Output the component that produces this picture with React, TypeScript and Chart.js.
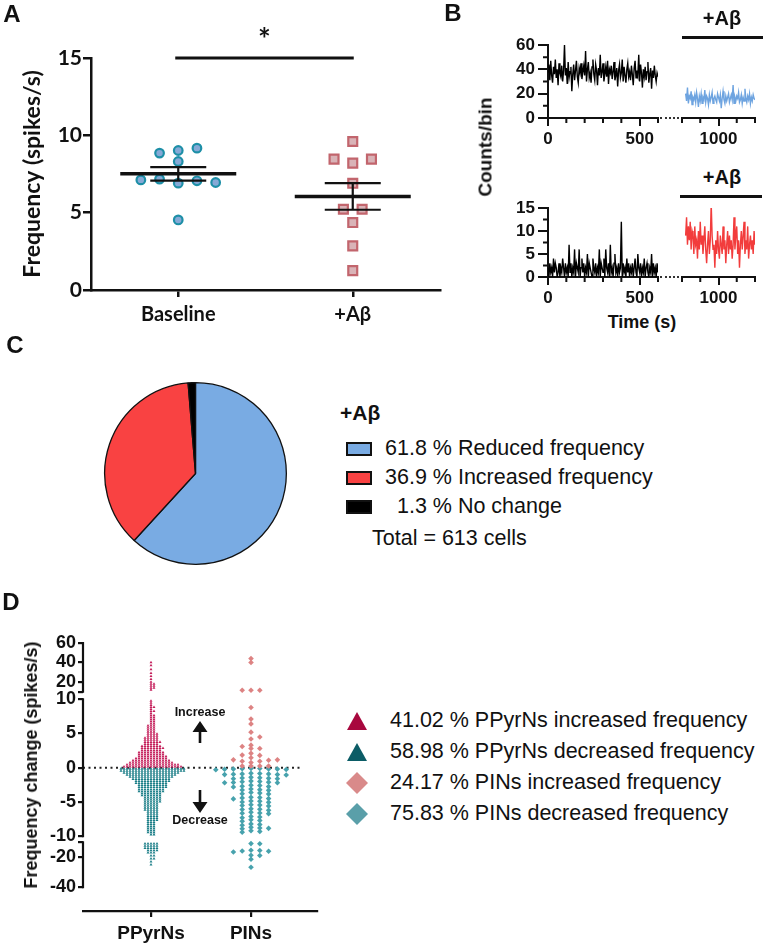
import React, { useEffect, useRef } from 'react';
import { Chart, registerables } from 'chart.js';

Chart.register(...registerables);

const SANS = "'Liberation Sans', Arial, Helvetica, sans-serif";
const LATO = "Lato, 'Open Sans', sans-serif";
const INK = '#111111';

/* ---------- A: mean firing rate, baseline vs +Aβ ---------- */
const groupLabels = ['Baseline', '+Aβ'];
const baselineRates = [8.85, 9.02, 9.17, 8.31, 7.12, 7.17, 6.91, 7.06, 6.95, 4.53];
const abetaRates = [9.6, 8.46, 8.2, 8.46, 6.9, 5.22, 5.22, 4.36, 2.85, 1.25];
const rateTicks = [0, 5, 10, 15];
const rateMax = 15;
const sigMark = '*';

/* ---------- B: spike counts of two example units ---------- */
const binSeconds = 5;
const preStart = 0;
const postStart = 820;
const preTimeTicks = [0, 500];
const preTimeMinor = [100, 200, 300, 400, 600];
const postTimeTicks = [1000];
const postTimeMinor = [800, 900, 1100, 1200];
const unit1Ticks = [0, 20, 40, 60];
const unit1Minor = [10, 30, 50];
const unit2Ticks = [0, 5, 10, 15];
const unit2Minor = [2.5, 7.5, 12.5];
const treatmentLabel = '+Aβ';

const unit1Pre = [
  38, 44, 31, 47, 35, 29, 42, 36, 48, 33,
  40, 27, 45, 37, 34, 43, 30, 39, 60, 35,
  41, 28, 46, 33, 38, 42, 22, 36, 44, 31,
  39, 47, 34, 29, 41, 37, 45, 32, 38, 43,
  35, 55, 30, 40, 46, 33, 37, 29, 42, 48,
  36, 31, 44, 39, 27, 41, 35, 52, 33, 38,
  45, 30, 36, 42, 34, 47, 28, 40, 37, 43,
  32, 38, 46, 31, 35, 41, 26, 39, 44, 33,
  37, 48, 30, 42, 35, 29, 40, 45, 34, 38,
  31, 43, 36, 27, 41, 47, 33, 39, 35, 52,
  30, 44, 37, 25, 40, 34, 42, 31, 38, 46,
  29, 36, 41, 24, 39, 33, 43, 35, 30, 37,
  34,
];
const unit1Post = [
  20, 14, 25, 12, 18, 16, 22, 11, 17, 15,
  19, 13, 21, 16, 9, 18, 14, 20, 12, 17,
  15, 23, 13, 18, 16, 11, 19, 14, 17, 21,
  12, 16, 18, 15, 13, 20, 17, 14, 19, 8,
  16, 22, 15, 12, 18, 14, 17, 20, 13, 16,
  19, 15, 27, 12, 17, 14, 18, 16, 21, 13,
  15, 19, 12, 17, 14, 24, 16, 13, 18, 15,
  20, 12, 17, 14, 19, 16, 15,
];
const unit2Pre = [
  2, 0, 3, 1, 2, 0, 4, 1, 3, 2,
  0, 1, 3, 0, 2, 1, 4, 2, 0, 3,
  1, 2, 0, 7, 1, 3, 0, 2, 1, 6,
  0, 3, 2, 1, 6, 0, 2, 4, 1, 3,
  0, 2, 1, 5, 0, 3, 2, 1, 0, 4,
  2, 1, 3, 0, 2, 1, 6, 0, 3, 2,
  1, 4, 0, 6, 2, 1, 3, 0, 7, 1,
  2, 0, 3, 5, 1, 2, 0, 3, 1, 2,
  12, 0, 3, 1, 2, 0, 4, 1, 3, 0,
  2, 1, 3, 0, 2, 4, 1, 0, 5, 2,
  1, 3, 0, 2, 1, 4, 0, 2, 3, 1,
  0, 2, 1, 5, 0, 3, 1, 2, 0, 3,
  1,
];
const unit2Post = [
  9, 13, 7, 11, 8, 12, 6, 10, 9, 5,
  11, 7, 8, 4, 10, 6, 12, 7, 9, 5,
  8, 11, 6, 3, 7, 10, 5, 8, 16, 9,
  6, 7, 2, 8, 5, 10, 6, 4, 9, 7,
  5, 11, 6, 8, 3, 7, 10, 5, 9, 6,
  8, 4, 7, 13, 6, 9, 11, 5, 8, 2,
  7, 10, 6, 9, 12, 5, 8, 6, 11, 4,
  7, 9, 6, 8, 5, 10, 7,
];

/* ---------- C: proportion of responding cells ---------- */
const responseLabels = ['Reduced frequency', 'Increased frequency', 'No change'];
const responseShares = [61.8, 36.9, 1.3];
const responseColors = ['#79abe3', '#f94242', '#000000'];
const totalCells = 613;

/* ---------- D: change in firing per cell type ---------- */
const cellTypes = ['PPyrNs', 'PINs'];
const changeTicks = [60, 40, 20, 10, 5, 0, -5, -10, -20, -40];
// PPyrNs rows: [value, number of cells]
const ppyrIncRows: [number, number][] = [
  [40, 1], [37, 1], [33, 1], [29, 1], [26, 1], [23, 1], [20, 1], [18, 2], [16, 2], [14, 2], [12, 1],
  [9.75, 1], [9.45, 1], [9.15, 1], [8.85, 2], [8.55, 1], [8.25, 2], [7.95, 1], [7.65, 2], [7.35, 2],
  [7.05, 2], [6.75, 2], [6.45, 2], [6.15, 3], [5.85, 3], [5.55, 3], [5.25, 3], [4.95, 4], [4.65, 4],
  [4.35, 5], [4.05, 5], [3.75, 6], [3.45, 5], [3.15, 7], [2.85, 8], [2.55, 7], [2.25, 9], [1.95, 9],
  [1.65, 10], [1.35, 11], [1.05, 13], [0.75, 15], [0.45, 18], [0.15, 20],
];
const ppyrDecRows: [number, number][] = [
  [-0.15, 22], [-0.45, 22], [-0.75, 19], [-1.05, 17], [-1.35, 15], [-1.65, 13], [-1.95, 12],
  [-2.25, 11], [-2.55, 10], [-2.85, 10], [-3.15, 9], [-3.45, 9], [-3.75, 7], [-4.05, 7], [-4.35, 6],
  [-4.65, 6], [-4.95, 6], [-5.25, 5], [-5.55, 5], [-5.85, 5], [-6.15, 5], [-6.45, 4], [-6.75, 4],
  [-7.05, 4], [-7.35, 4], [-7.65, 4], [-7.95, 3], [-8.25, 3], [-8.55, 3], [-8.85, 3], [-9.15, 3],
  [-9.45, 3], [-9.75, 2],
  [-11, 5], [-12.5, 5], [-14, 5], [-15.5, 4], [-17, 3], [-19, 2], [-21, 2], [-23, 1], [-25, 1],
];
const pinsInc = [
  44, 40, 11.5, 11.5, 11.5, 8.8, 7.1, 6.4, 5.2, 4.5, 4.2, 3.3, 3.1, 2.8, 2.8,
  2.1, 1.85, 1.8, 1.45, 1.15, 1.15, 1.1, 0.95, 0.95, 0.75, 0.25, 0.25, 0.25, 0.25,
];
const pinsDec = [
  -0.1, -0.12, -0.15, -0.18, -0.2, -0.2, -0.22, -0.25, -0.3,
  -0.8, -0.85, -0.9, -0.9, -0.95, -1.0, -1.0, -1.05,
  -1.4, -1.45, -1.5, -1.55, -1.6, -1.6,
  -1.95, -2.0, -2.05, -2.1, -2.15, -2.2, -2.2,
  -2.55, -2.6, -2.7, -2.75, -2.8,
  -3.1, -3.2, -3.25, -3.3,
  -3.6, -3.7, -3.8, -3.85,
  -4.3, -4.35, -4.4, -4.5, -4.55,
  -4.85, -4.9, -5.0, -5.05,
  -5.4, -5.45, -5.5, -5.6,
  -6.0, -6.05, -6.1, -6.2,
  -6.5, -6.6, -6.65, -6.7,
  -7.1, -7.2, -7.3,
  -7.6, -7.7, -7.8,
  -8.2, -8.3, -8.4,
  -8.7, -8.8, -8.85, -8.9,
  -9.2, -9.3, -9.4,
  -10.9, -11.0, -15.3, -15.5, -15.8, -16.0, -16.5, -18.7, -18.8, -21.3, -26.7,
];
const seriesNames = [
  'PPyrNs increased frequency',
  'PPyrNs decreased frequency',
  'PINs increased frequency',
  'PINs decreased frequency',
];

/* ---------- layout helpers ---------- */
type Rect = { l: number; t: number; r: number; b: number };

function frame(canvas: Rect, area: Rect, yShown = true) {
  const zero = (s: any) => {
    s.paddingLeft = 0; s.paddingRight = 0; s.paddingTop = 0; s.paddingBottom = 0;
  };
  return {
    padding: { top: area.t - canvas.t, right: canvas.r - area.r, bottom: 0, left: yShown ? 0 : area.l - canvas.l },
    fitY: (s: any) => { s.width = area.l - canvas.l; zero(s); },
    fitX: (s: any) => { s.height = canvas.b - area.b; zero(s); },
  };
}

const tickGrid = (len: number, width: number) => ({
  drawOnChartArea: false, drawTicks: true, tickLength: len, lineWidth: width,
  color: INK, tickColor: INK, tickWidth: width,
});
const setTicks = (vals: number[]) => (s: any) => { s.ticks = vals.map((value) => ({ value })); };

// rows of near-equal values spread evenly around the group centre
function rowOffsets(values: number[], tol: number): number[] {
  const order = values.map((_, i) => i).sort((a, b) => values[b] - values[a]);
  const offs = new Array(values.length).fill(0);
  let k = 0;
  while (k < order.length) {
    const first = values[order[k]];
    let j = k;
    while (j < order.length && first - values[order[j]] < tol) j++;
    const row = order.slice(k, j).sort((a, b) => a - b);
    row.forEach((idx, n) => { offs[idx] = n - (row.length - 1) / 2; });
    k = j;
  }
  return offs;
}

// column swarm: each point takes the nearest free column (right first, then left)
function columnOffsets(pos: number[], minGap: number): number[] {
  const order = pos.map((_, i) => i).sort((a, b) => Math.abs(pos[a]) - Math.abs(pos[b]));
  const taken: { c: number; p: number }[] = [];
  const cols = new Array(pos.length).fill(0);
  for (const i of order) {
    for (let n = 0; n < 400; n++) {
      const c = n === 0 ? 0 : n % 2 ? (n + 1) / 2 : -n / 2;
      if (!taken.some((t) => t.c === c && Math.abs(t.p - pos[i]) < minGap)) {
        cols[i] = c;
        taken.push({ c, p: pos[i] });
        break;
      }
    }
  }
  return cols;
}

const expandRows = (rows: [number, number][]) => rows.flatMap(([v, n]) => new Array(n).fill(v));

/* ---------- minor tick marks ---------- */
const minorTickPlugin = {
  id: 'minorTicks',
  afterDraw(chart: any, _args: any, opts: any) {
    const { ctx, chartArea } = chart;
    const len = opts.length ?? 5;
    ctx.save();
    ctx.strokeStyle = INK;
    ctx.lineWidth = opts.width ?? 2;
    ctx.beginPath();
    (opts.x || []).forEach((v: number) => {
      const px = chart.scales.x.getPixelForValue(v);
      ctx.moveTo(px, chartArea.bottom);
      ctx.lineTo(px, chartArea.bottom + len);
    });
    (opts.y || []).forEach((v: number) => {
      const py = chart.scales.y.getPixelForValue(v);
      ctx.moveTo(chartArea.left, py);
      ctx.lineTo(chartArea.left - len, py);
    });
    ctx.stroke();
    ctx.restore();
  },
};

/* ---------- A ---------- */
const A_CANVAS: Rect = { l: 0, t: 0, r: 445, b: 335 };
const A_AREA: Rect = { l: 91, t: 58, r: 440, b: 290 };

function stats(vals: number[]) {
  const n = vals.length;
  const mean = vals.reduce((a, b) => a + b, 0) / n;
  const sd = Math.sqrt(vals.reduce((a, b) => a + (b - mean) ** 2, 0) / (n - 1));
  return { mean, sem: sd / Math.sqrt(n) };
}

const meanSemPlugin = {
  id: 'meanSem',
  afterDatasetsDraw(chart: any) {
    const { ctx } = chart;
    const { x, y } = chart.scales;
    [baselineRates, abetaRates].forEach((vals, i) => {
      const { mean, sem } = stats(vals);
      const cx = x.getPixelForValue(i);
      const ym = y.getPixelForValue(mean);
      const yh = y.getPixelForValue(mean + sem);
      const yl = y.getPixelForValue(mean - sem);
      ctx.save();
      ctx.strokeStyle = INK;
      ctx.lineWidth = 3.5;
      ctx.beginPath(); ctx.moveTo(cx - 58, ym); ctx.lineTo(cx + 58, ym); ctx.stroke();
      ctx.lineWidth = 2.2;
      ctx.beginPath();
      ctx.moveTo(cx - 28, yh); ctx.lineTo(cx + 28, yh);
      ctx.moveTo(cx - 28, yl); ctx.lineTo(cx + 28, yl);
      ctx.moveTo(cx, yh); ctx.lineTo(cx, yl);
      ctx.stroke();
      ctx.restore();
    });
  },
};

const significancePlugin = {
  id: 'significance',
  afterDraw(chart: any) {
    const { ctx } = chart;
    const { x, y } = chart.scales;
    const x0 = x.getPixelForValue(0) - 3;
    const x1 = x.getPixelForValue(1) + 1;
    const yb = y.getPixelForValue(rateMax);
    ctx.save();
    ctx.strokeStyle = INK;
    ctx.lineWidth = 3;
    ctx.beginPath(); ctx.moveTo(x0, yb); ctx.lineTo(x1, yb); ctx.stroke();
    ctx.fillStyle = INK;
    ctx.font = `bold 30px ${LATO}`;
    ctx.textAlign = 'center';
    ctx.textBaseline = 'alphabetic';
    ctx.fillText(sigMark, (x0 + x1) / 2, yb - 8);
    ctx.restore();
  },
};

function buildPanelA() {
  const f = frame(A_CANVAS, A_AREA);
  const step = 18.7 / ((A_AREA.r - A_AREA.l) / 2);
  const mk = (vals: number[], cat: number) => {
    const o = rowOffsets(vals, 0.5);
    return vals.map((v, i) => ({ x: cat + o[i] * step, y: v }));
  };
  return {
    type: 'scatter',
    data: {
      datasets: [
        {
          label: groupLabels[0], data: mk(baselineRates, 0), pointStyle: 'circle', pointRadius: 4.3,
          pointBackgroundColor: '#86a9d6', pointBorderColor: '#1d8fa7', pointBorderWidth: 2.2,
        },
        {
          label: groupLabels[1], data: mk(abetaRates, 1), pointStyle: 'rect', pointRadius: 6.3,
          pointBackgroundColor: '#d9b3b7', pointBorderColor: '#c2656d', pointBorderWidth: 2.2,
        },
      ],
    },
    options: {
      responsive: false, animation: false, events: [],
      layout: { autoPadding: false, padding: f.padding },
      plugins: { legend: { display: false }, tooltip: { enabled: false } },
      scales: {
        x: {
          type: 'linear', min: -0.5, max: 1.5, afterBuildTicks: setTicks([0, 1]), afterFit: f.fitX,
          grid: tickGrid(7, 2.5), border: { display: true, width: 2.5, color: INK },
          ticks: {
            autoSkip: false, maxRotation: 0, padding: 6, color: INK,
            font: { family: LATO, size: 20, weight: 'bold' },
            callback: (_v: any, i: number) => groupLabels[i],
          },
        },
        y: {
          min: 0, max: rateMax, afterBuildTicks: setTicks(rateTicks), afterFit: f.fitY,
          grid: tickGrid(8, 2.5), border: { display: true, width: 2.5, color: INK },
          ticks: { autoSkip: false, padding: 1, color: INK, font: { family: LATO, size: 21, weight: 'bold' } },
          title: {
            display: true, text: 'Frequency (spikes/s)', color: INK,
            font: { family: LATO, size: 23, weight: 'bold' }, padding: { top: 19, bottom: 0 },
          },
        },
      },
    },
    plugins: [meanSemPlugin, significancePlugin],
  };
}

/* ---------- B ---------- */
const B_TOP_L = { canvas: { l: 490, t: 30, r: 662, b: 152 }, area: { l: 548, t: 45, r: 658, b: 118 } };
const B_TOP_R = { canvas: { l: 670, t: 30, r: 767, b: 152 }, area: { l: 682, t: 45, r: 755, b: 118 } };
const B_BOT_L = { canvas: { l: 490, t: 195, r: 662, b: 312 }, area: { l: 548, t: 208, r: 658, b: 277 } };
const B_BOT_R = { canvas: { l: 670, t: 195, r: 767, b: 312 }, area: { l: 682, t: 208, r: 755, b: 277 } };

type TraceSpec = {
  box: { canvas: Rect; area: Rect };
  values: number[]; start: number; color: string;
  yMax: number; yTicks: number[]; yMinor: number[];
  xMin: number; xMax: number; xTicks: number[]; xMinor: number[];
  showY: boolean;
};

function buildTrace(s: TraceSpec) {
  const f = frame(s.box.canvas, s.box.area, s.showY);
  const tickFont = { family: SANS, size: 17, weight: 'bold' };
  return {
    type: 'line',
    data: {
      datasets: [{
        data: s.values.map((v, i) => ({ x: s.start + i * binSeconds, y: v })),
        borderColor: s.color, borderWidth: 1.4, pointRadius: 0, tension: 0,
      }],
    },
    options: {
      responsive: false, animation: false, events: [],
      layout: { autoPadding: false, padding: f.padding },
      plugins: {
        legend: { display: false }, tooltip: { enabled: false },
        minorTicks: { x: s.xMinor, y: s.showY ? s.yMinor : [], length: 5, width: 2 },
      },
      scales: {
        x: {
          type: 'linear', min: s.xMin, max: s.xMax, afterBuildTicks: setTicks(s.xTicks), afterFit: f.fitX,
          grid: tickGrid(8, 2), border: { display: true, width: 2, color: INK },
          ticks: {
            autoSkip: false, maxRotation: 0, padding: 3, color: INK, font: tickFont,
            callback: (v: any) => String(v),
          },
        },
        y: s.showY
          ? {
            min: 0, max: s.yMax, afterBuildTicks: setTicks(s.yTicks), afterFit: f.fitY,
            grid: tickGrid(10, 2), border: { display: true, width: 2, color: INK },
            ticks: { autoSkip: false, padding: 3, color: INK, font: tickFont, callback: (v: any) => String(v) },
          }
          : { display: false, min: 0, max: s.yMax },
      },
    },
    plugins: [minorTickPlugin],
  };
}

const buildB1 = () => buildTrace({
  box: B_TOP_L, values: unit1Pre, start: preStart, color: '#000000', yMax: 60, yTicks: unit1Ticks,
  yMinor: unit1Minor, xMin: 0, xMax: 600, xTicks: preTimeTicks, xMinor: preTimeMinor, showY: true,
});
const buildB2 = () => buildTrace({
  box: B_TOP_R, values: unit1Post, start: postStart, color: '#6ea4e0', yMax: 60, yTicks: unit1Ticks,
  yMinor: unit1Minor, xMin: 800, xMax: 1200, xTicks: postTimeTicks, xMinor: postTimeMinor, showY: false,
});
const buildB3 = () => buildTrace({
  box: B_BOT_L, values: unit2Pre, start: preStart, color: '#000000', yMax: 15, yTicks: unit2Ticks,
  yMinor: unit2Minor, xMin: 0, xMax: 600, xTicks: preTimeTicks, xMinor: preTimeMinor, showY: true,
});
const buildB4 = () => buildTrace({
  box: B_BOT_R, values: unit2Post, start: postStart, color: '#f23c3c', yMax: 15, yTicks: unit2Ticks,
  yMinor: unit2Minor, xMin: 800, xMax: 1200, xTicks: postTimeTicks, xMinor: postTimeMinor, showY: false,
});

/* ---------- C ---------- */
const C_CANVAS: Rect = { l: 103, t: 381, r: 288, b: 566 };

function buildPanelC() {
  return {
    type: 'pie',
    data: {
      labels: responseLabels,
      datasets: [{ data: responseShares, backgroundColor: responseColors, borderColor: INK, borderWidth: 1.3 }],
    },
    options: {
      responsive: false, animation: false, events: [],
      layout: { padding: 1 },
      plugins: { legend: { display: false }, tooltip: { enabled: false } },
    },
  };
}

/* ---------- D: broken y axis (10..60 / -10..10 / -40..-10) ---------- */
const D_CANVAS: Rect = { l: 0, t: 625, r: 330, b: 947 };
const D_AREA: Rect = { l: 83, t: 643, r: 317, b: 911 };
const D_XMIN = -0.68;
const D_XMAX = 1.66;
const D_XPX = (D_AREA.r - D_AREA.l) / (D_XMAX - D_XMIN);
const MID_PX = 6.85, TOP_PX = 0.975, BOT_PX = 1.5, GAP_T = 7.5, GAP_B = 6;

function dPos(v: number, seg?: 'top' | 'bottom') {
  if (seg === 'top' || v > 10) return 10 * MID_PX + GAP_T + (v - 10) * TOP_PX;
  if (seg === 'bottom' || v < -10) return -10 * MID_PX - GAP_B + (v + 10) * BOT_PX;
  return v * MID_PX;
}

const dTickList = (() => {
  const out: { pos: number; label: string }[] = [];
  changeTicks.forEach((v) => {
    if (v === 10) out.push({ pos: dPos(10, 'top'), label: '' });
    out.push({ pos: dPos(v), label: String(v) });
    if (v === -10) out.push({ pos: dPos(-10, 'bottom'), label: '' });
  });
  return out;
})();

const brokenAxisPlugin = {
  id: 'brokenAxis',
  afterDraw(chart: any) {
    const { ctx, chartArea } = chart;
    const y = chart.scales.y;
    const segs = [
      [dPos(60), dPos(10, 'top')],
      [dPos(10), dPos(-10)],
      [dPos(-10, 'bottom'), dPos(-40)],
    ];
    ctx.save();
    ctx.strokeStyle = INK;
    ctx.lineWidth = 2.2;
    ctx.beginPath();
    segs.forEach(([a, b]) => {
      ctx.moveTo(chartArea.left, y.getPixelForValue(a) - 1);
      ctx.lineTo(chartArea.left, y.getPixelForValue(b) + 1);
    });
    ctx.stroke();
    ctx.restore();
  },
};

function swarm(vals: number[], cat: number, stepPx: number, gapPx: number) {
  const pos = vals.map((v) => dPos(v));
  const cols = columnOffsets(pos, gapPx);
  return pos.map((p, i) => ({ x: cat + (cols[i] * stepPx) / D_XPX, y: p }));
}

const dColors = ['#c41f5b', '#1b7e87', '#dd8383', '#47a2ad'];
const dLegendColors = ['#a8083e', '#0b5c66', '#d98a8a', '#5a9fa9'];

function buildPanelD() {
  const f = frame(D_CANVAS, D_AREA);
  const ppInc = expandRows(ppyrIncRows);
  const ppDec = expandRows(ppyrDecRows);
  return {
    type: 'scatter',
    data: {
      datasets: [
        {
          type: 'line', data: [{ x: D_XMIN, y: 0 }, { x: 1.51, y: 0 }], borderColor: '#222',
          borderWidth: 2, borderDash: [2, 3.5], pointRadius: 0, order: 10,
        },
        { label: seriesNames[0], data: swarm(ppInc, 0, 3, 1.9), pointStyle: 'triangle', pointRadius: 1.7, pointBackgroundColor: dColors[0], pointBorderWidth: 0 },
        { label: seriesNames[1], data: swarm(ppDec, 0, 3, 1.9), pointStyle: 'triangle', pointRadius: 1.7, pointBackgroundColor: dColors[1], pointBorderWidth: 0 },
        { label: seriesNames[2], data: swarm(pinsInc, 1, 8.8, 3.2), pointStyle: 'rectRot', pointRadius: 2.8, pointBackgroundColor: dColors[2], pointBorderWidth: 0 },
        { label: seriesNames[3], data: swarm(pinsDec, 1, 8.8, 3.2), pointStyle: 'rectRot', pointRadius: 2.8, pointBackgroundColor: dColors[3], pointBorderWidth: 0 },
      ],
    },
    options: {
      responsive: false, animation: false, events: [],
      layout: { autoPadding: false, padding: f.padding },
      plugins: { legend: { display: false }, tooltip: { enabled: false } },
      scales: {
        x: {
          type: 'linear', min: D_XMIN, max: D_XMAX, afterBuildTicks: setTicks([0, 1]), afterFit: f.fitX,
          grid: tickGrid(6, 2.2), border: { display: true, width: 2.2, color: INK },
          ticks: {
            autoSkip: false, maxRotation: 0, padding: 5, color: INK,
            font: { family: SANS, size: 19, weight: 'bold' },
            callback: (_v: any, i: number) => cellTypes[i],
          },
        },
        y: {
          min: dPos(-40) - (D_AREA.b - 887.25), max: dPos(60),
          afterBuildTicks: (s: any) => { s.ticks = dTickList.map((t) => ({ value: t.pos })); },
          afterFit: f.fitY,
          grid: tickGrid(5, 2.2), border: { display: false },
          ticks: {
            autoSkip: false, padding: 2, color: INK,
            font: { family: SANS, size: 18, weight: 'bold' },
            callback: (_v: any, i: number) => dTickList[i]?.label ?? '',
          },
        },
      },
    },
    plugins: [brokenAxisPlugin],
  };
}

/* ---------- React pieces ---------- */
function ChartCanvas({ rect, build }: { rect: Rect; build: () => any }) {
  const ref = useRef<HTMLCanvasElement | null>(null);
  useEffect(() => {
    if (!ref.current) return;
    const chart = new Chart(ref.current, build());
    return () => chart.destroy();
  }, [build]);
  const w = rect.r - rect.l;
  const h = rect.b - rect.t;
  return (
    <canvas
      ref={ref}
      width={w}
      height={h}
      style={{ position: 'absolute', left: rect.l, top: rect.t, width: w, height: h }}
    />
  );
}

type TxtProps = {
  x: number; y: number; size: number; bold?: boolean; family?: string;
  align?: 'left' | 'center'; rotate?: number; children: React.ReactNode;
};
function Txt({ x, y, size, bold, family = SANS, align = 'center', rotate = 0, children }: TxtProps) {
  return (
    <div
      style={{
        position: 'absolute', left: x, top: y, fontSize: size, fontWeight: bold ? 700 : 400,
        fontFamily: family, lineHeight: 1, whiteSpace: 'pre', color: INK,
        transform: `translate(${align === 'center' ? '-50%' : '0'}, -50%) rotate(${rotate}deg)`,
        transformOrigin: align === 'center' ? '50% 50%' : '0 50%',
      }}
    >
      {children}
    </div>
  );
}

const Bar = ({ l, t, w, h = 3 }: { l: number; t: number; w: number; h?: number }) => (
  <div style={{ position: 'absolute', left: l, top: t, width: w, height: h, background: INK }} />
);

const Dots = ({ l, t, w }: { l: number; t: number; w: number }) => (
  <div style={{ position: 'absolute', left: l, top: t, width: w, height: 0, borderTop: '2px dotted #333' }} />
);

function Marker({ x, y, shape, color }: { x: number; y: number; shape: 'tri' | 'dia'; color: string }) {
  const s = 22;
  const pts = shape === 'tri' ? '11,2 21,20 1,20' : '11,0 22,11 11,22 0,11';
  return (
    <svg width={s} height={s} style={{ position: 'absolute', left: x - s / 2, top: y - s / 2 }}>
      <polygon points={pts} fill={color} />
    </svg>
  );
}

function Arrow({ x, y1, y2, up }: { x: number; y1: number; y2: number; up: boolean }) {
  const top = Math.min(y1, y2);
  const h = Math.abs(y2 - y1);
  const head = 11;
  const path = up
    ? `M8,0 L15.5,${head} L9.3,${head} L9.3,${h} L6.7,${h} L6.7,${head} L0.5,${head} Z`
    : `M8,${h} L15.5,${h - head} L9.3,${h - head} L9.3,0 L6.7,0 L6.7,${h - head} L0.5,${h - head} Z`;
  return (
    <svg width={16} height={h} style={{ position: 'absolute', left: x - 8, top }}>
      <path d={path} fill={INK} />
    </svg>
  );
}

export default function App() {
  const ppInc = expandRows(ppyrIncRows).length;
  const ppDec = expandRows(ppyrDecRows).length;
  const pct = (a: number, b: number) => ((a / (a + b)) * 100).toFixed(2);
  const dLegend = [
    { shape: 'tri' as const, text: `${pct(ppInc, ppDec)} % ${seriesNames[0]}` },
    { shape: 'tri' as const, text: `${pct(ppDec, ppInc)} % ${seriesNames[1]}` },
    { shape: 'dia' as const, text: `${pct(pinsInc.length, pinsDec.length)} % ${seriesNames[2]}` },
    { shape: 'dia' as const, text: `${pct(pinsDec.length, pinsInc.length)} % ${seriesNames[3]}` },
  ];
  const dRows = [721, 752, 783, 814];
  const cRows = [449, 478, 507];

  return (
    <div
      style={{
        position: 'absolute', left: 0, top: 0, width: 767, height: 947, background: '#ffffff',
        overflow: 'hidden', fontFamily: SANS, color: INK,
      }}
    >
      <ChartCanvas rect={A_CANVAS} build={buildPanelA} />
      <ChartCanvas rect={B_TOP_L.canvas} build={buildB1} />
      <ChartCanvas rect={B_TOP_R.canvas} build={buildB2} />
      <ChartCanvas rect={B_BOT_L.canvas} build={buildB3} />
      <ChartCanvas rect={B_BOT_R.canvas} build={buildB4} />
      <ChartCanvas rect={C_CANVAS} build={buildPanelC} />
      <ChartCanvas rect={D_CANVAS} build={buildPanelD} />

      {/* panel letters */}
      <Txt x={12} y={14} size={24} bold>A</Txt>
      <Txt x={453} y={13} size={24} bold>B</Txt>
      <Txt x={15} y={345} size={24} bold>C</Txt>
      <Txt x={11} y={602} size={24} bold>D</Txt>

      {/* B annotations */}
      <Txt x={722} y={18} size={20} bold>{treatmentLabel}</Txt>
      <Bar l={682} t={36} w={81} />
      <Txt x={722} y={177} size={20} bold>{treatmentLabel}</Txt>
      <Bar l={680} t={195} w={82} />
      <Dots l={660} t={117} w={19} />
      <Dots l={660} t={276} w={19} />
      <Txt x={485} y={147} size={19} bold rotate={-90}>Counts/bin</Txt>
      <Txt x={642} y={322} size={18} bold>Time (s)</Txt>

      {/* C legend */}
      <Txt x={340} y={412} size={21} bold align="left">{treatmentLabel}</Txt>
      {responseLabels.map((lab, i) => (
        <React.Fragment key={lab}>
          <div
            style={{
              position: 'absolute', left: 346, top: cRows[i] - 7, width: 26, height: 14,
              background: responseColors[i], border: `2px solid ${INK}`, boxSizing: 'border-box',
            }}
          />
          <Txt x={385} y={cRows[i]} size={21.5} align="left">
            {`${responseShares[i].toFixed(1).padStart(4, '\u2007')} % ${lab}`}
          </Txt>
        </React.Fragment>
      ))}
      <Txt x={372} y={539} size={21.5} align="left">{`Total = ${totalCells} cells`}</Txt>

      {/* D annotations */}
      <Txt x={31} y={765} size={18} bold rotate={-90}>Frequency change (spikes/s)</Txt>
      <Txt x={200} y={712} size={12.5} bold>Increase</Txt>
      <Arrow x={200} y1={721} y2={743} up />
      <Arrow x={200} y1={790} y2={813} up={false} />
      <Txt x={200} y={820} size={12.5} bold>Decrease</Txt>
      {dLegend.map((d, i) => (
        <React.Fragment key={d.text}>
          <Marker x={357} y={dRows[i]} shape={d.shape} color={dLegendColors[i]} />
          <Txt x={390} y={dRows[i]} size={21.5} align="left">{d.text}</Txt>
        </React.Fragment>
      ))}
    </div>
  );
}
